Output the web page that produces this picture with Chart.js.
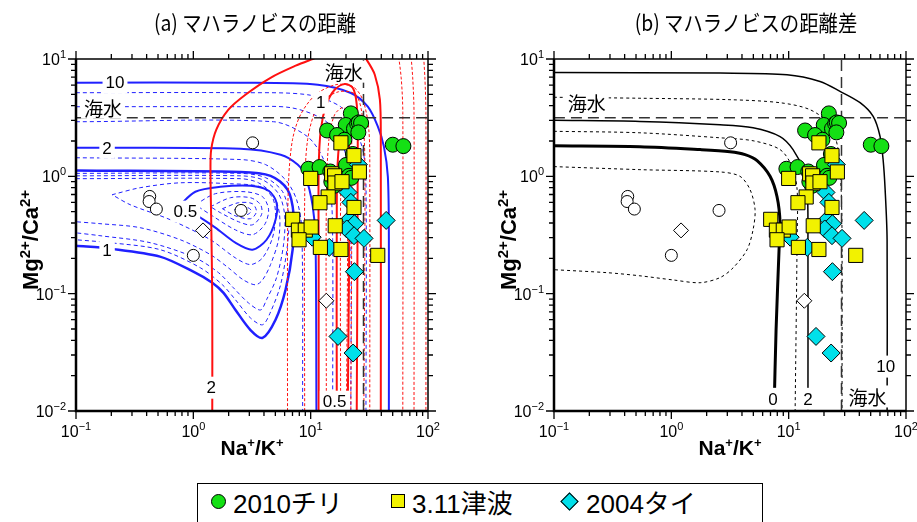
<!DOCTYPE html>
<html>
<head>
<meta charset="utf-8">
<title>マハラノビスの距離</title>
<script src="https://cdn.jsdelivr.net/npm/chart.js@4.4.1/dist/chart.umd.min.js"></script>
<style>
  body { margin: 0; background: #fff; }
  #page { position: relative; width: 917px; height: 522px; overflow: hidden; }
  canvas { position: absolute; top: 0; }
  #chartA { left: 0; }
  #chartB { left: 460px; }
  .title { position: absolute; top: 5px; font: 22px "Noto Sans CJK JP", sans-serif; transform: translateX(-50%) scaleX(0.88); white-space: nowrap; }
  #legend { position: absolute; left: 197px; top: 483px; width: 564px; height: 50px; border: 1.5px solid #000;
            font: 26px "Liberation Sans", "Noto Sans CJK JP", sans-serif; }
  .item { position: absolute; top: 0; height: 34px; display: flex; align-items: center; white-space: nowrap; }
  .mk { border: 1px solid #000; box-sizing: border-box; margin-right: 7px; }
</style>
</head>
<body>
<div id="page">
  <canvas id="chartA" width="460" height="470"></canvas>
  <canvas id="chartB" width="457" height="470"></canvas>
  <div class="title" style="left:255px">(a) マハラノビスの距離</div>
  <div class="title" style="left:746px">(b) マハラノビスの距離差</div>
  <div id="legend"></div>
</div>
<script>
// ---- axes ----
const xTicks = [0.1, 1, 10, 100];
const xTickExp = ['\u22121', '0', '1', '2'];
const yTicks = [0.01, 0.1, 1, 10];
const yTickExp = ['\u22122', '\u22121', '0', '1'];
const minorSteps = [2, 3, 4, 5, 6, 7, 8, 9];
const xTitleParts = [['Na', 0], ['+', 1], ['/K', 0], ['+', 1]];
const yTitleParts = [['Mg', 0], ['2+', 1], ['/Ca', 0], ['2+', 1]];

// ---- samples (Na/K, Mg/Ca) ----
const seriesNames = ['2010チリ', '3.11津波', '2004タイ'];
const chile = [
  [22.0, 3.44], [19.9, 2.74], [23.4, 2.55], [24.9, 2.81], [25.7, 2.88], [26.9, 2.85], [25.5, 2.37],
  [13.8, 2.46], [16.8, 2.25], [19.4, 2.05], [50.1, 1.86], [61.7, 1.81], [22.9, 1.55], [20.0, 1.25],
  [9.56, 1.16], [11.9, 1.20], [14.7, 1.10], [21.2, 1.01], [22.2, 0.97], [15.8, 0.83], [15.0, 0.90]
];
const tsunami = [
  [18.1, 1.93], [23.4, 1.50], [26.0, 1.09], [10.0, 0.96], [15.1, 1.05], [16.0, 1.01], [16.1, 0.877],
  [18.5, 0.90], [14.1, 0.667], [12.0, 0.596], [23.4, 0.543], [7.03, 0.43], [7.86, 0.348], [9.0, 0.348],
  [10.1, 0.37], [16.2, 0.379], [7.96, 0.288], [12.1, 0.248], [18.1, 0.238], [37.3, 0.212]
];
const thai = [
  [25.5, 1.26], [20.8, 0.729], [22.0, 0.60], [44.0, 0.421], [21.5, 0.432], [23.6, 0.394], [20.3, 0.356],
  [23.4, 0.312], [28.5, 0.296], [10.3, 0.303], [14.4, 0.248], [23.6, 0.154], [17.1, 0.0432], [23.0, 0.0312]
];
const otherCircles = [[3.2, 1.93], [0.425, 0.674], [0.42, 0.61], [0.484, 0.526], [2.55, 0.512], [1.0, 0.212]];
const otherDiamonds = [[1.21, 0.346], [13.6, 0.087]];
const seawater = [28.2, 3.15];

// ---- (a) blue contours ----
const blue10 = [[0.1, 6.28], [2.52, 6.27], [11.5, 6.04], [22, 5.13], [30.7, 3.92], [37.4, 2.65], [42.1, 1.79], [45.5, 0.99], [46.4, 0.288], [46.4, 0.01]];
const blue5 = [[0.1, 5.16], [2.52, 5.16], [9.4, 4.96], [18, 3.92], [23.3, 2.65], [27.8, 1.69], [29.6, 0.88], [29.6, 0.01]];
const blue4 = [[0.1, 3.92], [2.52, 3.92], [6.74, 3.85], [12.9, 3.04], [18, 2.05], [20.7, 1.21], [22, 0.29], [22, 0.01]];
const blue3 = [[0.1, 2.92], [4.83, 2.92], [9.4, 2.18], [12.9, 1.39], [14.8, 0.77], [15.4, 0.29], [15.4, 0.01]];
const blue2 = [[0.1, 1.75], [2.52, 1.72], [5.55, 1.53], [7.74, 1.26], [9.06, 0.99], [10.4, 0.56], [11.0, 0.288], [11.2, 0.01]];
const blue15 = [[0.1, 1.44], [2.52, 1.39], [4.12, 1.26], [6.1, 0.935], [7.6, 0.63], [8.4, 0.35], [8.55, 0.01]];
const blue1 = [[0.1, 1.12], [2.52, 1.09], [4.55, 1.01], [6.35, 0.77], [7.16, 0.47], [7.02, 0.237], [6.11, 0.108], [5.02, 0.06],
  [3.89, 0.042], [3.07, 0.049], [2.28, 0.073], [1.8, 0.102], [1.45, 0.124], [1.0, 0.154], [0.52, 0.207], [0.195, 0.242], [0.1, 0.256]];
const blue09 = [[0.1, 1.06], [2.52, 1.06], [4.12, 0.975], [5.77, 0.739], [6.49, 0.471], [6.35, 0.261], [5.54, 0.119], [4.55, 0.0698],
  [3.89, 0.0543], [3.07, 0.0621], [2.28, 0.089], [1.77, 0.119], [1.15, 0.166], [0.522, 0.237], [0.195, 0.272], [0.1, 0.288]];
const blue08 = [[0.1, 1.01], [2.52, 1.01], [3.89, 0.935], [5.32, 0.711], [6.0, 0.471], [5.87, 0.261], [5.12, 0.137], [4.21, 0.089],
  [3.74, 0.0726], [2.95, 0.0834], [2.2, 0.112], [1.64, 0.151], [1.04, 0.202], [0.428, 0.272], [0.16, 0.312], [0.1, 0.33]];
const blue07 = [[0.1, 0.955], [2.52, 0.955], [3.59, 0.881], [4.83, 0.684], [5.43, 0.471], [5.32, 0.288], [4.55, 0.177], [3.89, 0.131],
  [3.39, 0.119], [2.67, 0.131], [1.99, 0.166], [1.4, 0.215], [0.775, 0.288], [0.352, 0.365], [0.16, 0.395], [0.1, 0.41]];
const blue06 = [[0.203, 0.697], [0.352, 0.8], [0.775, 0.881], [2.07, 0.865], [3.74, 0.815], [4.73, 0.657], [5.02, 0.471], [4.73, 0.3],
  [3.89, 0.202], [3.07, 0.177], [2.28, 0.202], [1.4, 0.288], [0.635, 0.427], [0.29, 0.573], [0.203, 0.697]];
const blue05 = [[0.745, 0.551], [1.04, 0.739], [1.7, 0.815], [3.07, 0.832], [4.38, 0.754], [5.12, 0.596], [5.02, 0.427], [4.21, 0.288],
  [3.19, 0.237], [2.28, 0.272], [1.54, 0.365], [1.04, 0.471], [0.745, 0.551]];
const blue04 = [[1.04, 0.573], [1.54, 0.711], [2.78, 0.739], [3.89, 0.67], [4.38, 0.519], [4.04, 0.386], [3.19, 0.318], [2.28, 0.35], [1.45, 0.461], [1.04, 0.573]];
const blue03 = [[1.4, 0.551], [2.07, 0.657], [3.07, 0.657], [3.74, 0.573], [3.81, 0.471], [3.19, 0.386], [2.43, 0.41], [1.7, 0.49], [1.4, 0.551]];
const blue02 = [[1.77, 0.53], [2.43, 0.596], [3.19, 0.584], [3.45, 0.499], [3.07, 0.435], [2.28, 0.461], [1.77, 0.53]];
const blue01 = [[2.24, 0.519], [2.78, 0.551], [3.13, 0.509], [2.84, 0.471], [2.24, 0.519]];

// ---- (a) red contours ----
const red2 = [[1.45, 0.01], [1.45, 0.089], [1.42, 0.427], [1.4, 1.14], [1.42, 1.69], [1.57, 2.5], [1.99, 3.7], [2.78, 4.96], [4.55, 6.92], [7.45, 8.77], [10.4, 10], [12.2, 10.6]];
const red2b = [[27.8, 10.6], [30.1, 9.8], [35.2, 7.35], [38.9, 4.5], [39.6, 2.05], [39.6, 0.01]];
const red15 = [[6.35, 0.01], [6.35, 0.237], [6.49, 0.935], [7.0, 2.05], [8.2, 3.35], [11, 4.96], [16.4, 6.04], [22.9, 5.81], [27.8, 4.5], [31.3, 2.5], [31.9, 0.935], [31.9, 0.01]];
const red125 = [[8.89, 0.01], [8.89, 0.63], [9.42, 2.05], [11.7, 4.08], [17.3, 5.26], [24.3, 4.96], [27.8, 3.04], [29.0, 1.14], [28.4, 0.01]];
const red1 = [[11.7, 0.01], [11.7, 0.237], [11.7, 1.14], [12.2, 2.5], [13.6, 4.08], [16.0, 5.47], [19.5, 6.12], [22.9, 5.66], [24.7, 4.08], [25.2, 2.05], [24.7, 0.01]];
const red075 = [[13.6, 0.01], [13.6, 0.63], [14.3, 2.05], [16, 3.35], [18.8, 3.85], [21.5, 3.35], [22.4, 1.69], [22, 0.01]];
const red05 = [[16.7, 0.01], [16.7, 0.63], [17.3, 1.69], [18.8, 2.26], [20.7, 2.13], [21.5, 1.39], [20.7, 0.01]];
const red03 = [[18, 0.01], [18, 0.63], [18.8, 1.2], [19.9, 1.3], [20.7, 1.0], [20.2, 0.01]];
const red3 = [[54, 14], [59, 7], [61, 3.5], [61, 0.01]];
const red4 = [[70, 14], [74, 7], [76, 3.5], [76, 0.01]];
const red5 = [[90, 14], [94, 7], [96, 3.5], [96, 0.01]];

// ---- (b) contours of the distance difference ----
const diff0 = [[0.1, 1.82], [0.54, 1.79], [1.76, 1.69], [3.16, 1.62], [4.25, 1.53], [5.38, 1.36], [6.94, 1.0], [7.96, 0.67], [8.45, 0.40], [8.28, 0.237], [7.81, 0.049], [7.51, 0.01]];
const diff2 = [[0.1, 3.0], [0.54, 2.94], [2.6, 2.75], [4.97, 2.59], [8.45, 2.18], [10.9, 1.69], [13.3, 1.14], [14.4, 0.77], [14.6, 0.29], [14.6, 0.01]];
const diff10 = [[0.1, 7.69], [2.6, 7.58], [9.69, 7.35], [18.5, 6.44], [27.4, 5.3], [40.6, 4.24], [52.5, 3.24], [60.1, 2.19], [63.8, 1.39], [66.4, 0.77], [69, 0.29], [69, 0.01]];
const diff5 = [[0.1, 4.72], [0.54, 4.63], [3.16, 4.5], [8.45, 4.24], [15.2, 3.7], [22.5, 2.75], [26.4, 1.69], [28, 0.77], [28.5, 0.29], [28.5, 0.01]];
const diff1 = [[0.1, 2.42], [0.54, 2.35], [2.6, 2.13], [4.97, 2.01], [8.45, 1.69], [10.7, 1.21], [11.8, 0.77], [11.8, 0.29], [11.35, 0.01]];
const diffM1 = [[0.1, 1.21], [0.54, 1.14], [2.6, 1.09], [3.85, 1.0], [4.69, 0.77], [5.17, 0.52], [4.97, 0.35], [4.42, 0.237], [3.36, 0.166],
  [2.6, 0.137], [1.76, 0.124], [1.03, 0.131], [0.54, 0.142], [0.283, 0.151], [0.1, 0.16]];

// ---- contour labels (text, x, y) ----
const numLabelsA = [['10', 0.215, 6.28], ['2', 0.184, 1.75], ['1', 0.184, 0.232], ['0.5', 0.855, 0.5], ['2', 1.42, 0.0158], ['1', 12.2, 4.24], ['0.5', 16.0, 0.012]];
const seaLabelsA = [['海水', 0.17, 3.85], ['海水', 19.1, 7.8]];
const numLabelsB = [['0', 7.36, 0.0127], ['2', 14.6, 0.0127], ['10', 67.3, 0.0239]];
const seaLabelsB = [['海水', 0.19, 4.22], ['海水', 46.9, 0.0133]];

// ---------------------------------------------------------------
const BLUE = '#2020ff', RED = '#ff1010';
const markColors = ['#14e014', '#f2f200', '#00e0ea'];

const toPts = a => a.map(p => ({ x: p[0], y: p[1] }));

function contour(a, color, width, dash, order) {
  return {
    data: toPts(a), showLine: true, borderColor: color, borderWidth: width, borderDash: dash || [],
    pointRadius: 0, pointHoverRadius: 0, tension: 0.3, order: order
  };
}

function marks(a, style, fill, r, order) {
  return {
    data: toPts(a), showLine: false, pointStyle: style, pointRadius: r, pointHoverRadius: r,
    backgroundColor: fill, borderColor: '#000', borderWidth: 1, order: order
  };
}

function seaLines() {
  return [
    contour([[xTicks[0], seawater[1]], [xTicks[3], seawater[1]]], '#333', 1.5, [11, 6], 8),
    contour([[seawater[0], yTicks[0]], [seawater[0], yTicks[3]]], '#333', 1.5, [11, 6], 8)
  ];
}

function sampleSets() {
  return [
    marks(otherCircles, 'circle', '#fff', 6, 5),
    marks(otherDiamonds, 'rectRot', '#fff', 7.5, 5),
    marks(chile, 'circle', markColors[0], 7.5, 4),
    marks(thai, 'rectRot', markColors[2], 9, 3),
    marks(tsunami, 'rect', markColors[1], 10, 2)
  ];
}

function textLabel(ctx, text, x, y, font, bg) {
  ctx.font = font;
  const w = ctx.measureText(text).width;
  if (bg) {
    ctx.fillStyle = '#fff';
    ctx.fillRect(x - w / 2 - 3, y - 11, w + 6, 22);
  }
  ctx.fillStyle = '#000';
  ctx.textAlign = 'center';
  ctx.textBaseline = 'middle';
  ctx.fillText(text, x, y + 1);
}

function supText(ctx, parts, x, y, size, supSize) {
  const big = 'bold ' + size + 'px "Liberation Sans"', small = 'bold ' + supSize + 'px "Liberation Sans"';
  let total = 0;
  parts.forEach(p => { ctx.font = p[1] ? small : big; total += ctx.measureText(p[0]).width; });
  let cx = x - total / 2;
  ctx.textAlign = 'left';
  ctx.textBaseline = 'alphabetic';
  parts.forEach(p => {
    ctx.font = p[1] ? small : big;
    ctx.fillText(p[0], cx, p[1] ? y - 8 : y);
    cx += ctx.measureText(p[0]).width;
  });
}

function powerLabel(ctx, exp, x, y, align) {
  ctx.font = '16px "Liberation Sans"';
  const wb = ctx.measureText('10').width;
  ctx.font = '11px "Liberation Sans"';
  const we = ctx.measureText(exp).width;
  const left = align === 'center' ? x - (wb + we) / 2 : x - wb - we;
  ctx.textAlign = 'left';
  ctx.textBaseline = 'alphabetic';
  ctx.font = '16px "Liberation Sans"';
  ctx.fillText('10', left, y);
  ctx.font = '11px "Liberation Sans"';
  ctx.fillText(exp, left + wb, y - 7);
}

const axesPlugin = {
  id: 'axes',
  afterDatasetsDraw(chart, args, o) {
    const ctx = chart.ctx, a = chart.chartArea, xs = chart.scales.x, ys = chart.scales.y;
    ctx.save();
    ctx.fillStyle = '#000';
    o.nums.forEach(l => textLabel(ctx, l[0], xs.getPixelForValue(l[1]), ys.getPixelForValue(l[2]), '17px "Liberation Sans"', true));
    o.seas.forEach(l => textLabel(ctx, l[0], xs.getPixelForValue(l[1]), ys.getPixelForValue(l[2]), '19px "Noto Sans CJK JP"', true));

    // frame
    ctx.strokeStyle = '#000';
    ctx.lineWidth = 1.5;
    ctx.strokeRect(a.left, a.top, a.right - a.left, a.bottom - a.top);
    ctx.lineWidth = 2.5;
    ctx.beginPath();
    ctx.moveTo(a.left, a.top); ctx.lineTo(a.left, a.bottom); ctx.lineTo(a.right, a.bottom);
    ctx.stroke();

    // tick marks, outward on all four sides
    ctx.lineWidth = 1.3;
    const tickX = (v, len) => {
      const p = xs.getPixelForValue(v);
      ctx.beginPath();
      ctx.moveTo(p, a.bottom); ctx.lineTo(p, a.bottom + len);
      ctx.moveTo(p, a.top); ctx.lineTo(p, a.top - len);
      ctx.stroke();
    };
    const tickY = (v, len) => {
      const p = ys.getPixelForValue(v);
      ctx.beginPath();
      ctx.moveTo(a.left, p); ctx.lineTo(a.left - len, p);
      ctx.moveTo(a.right, p); ctx.lineTo(a.right + len, p);
      ctx.stroke();
    };
    xTicks.forEach(v => tickX(v, 8));
    xTicks.slice(0, -1).forEach(d => minorSteps.forEach(m => tickX(d * m, 5)));
    yTicks.forEach(v => tickY(v, 8));
    yTicks.slice(0, -1).forEach(d => minorSteps.forEach(m => tickY(d * m, 5)));

    // tick labels
    ctx.fillStyle = '#000';
    xTicks.forEach((v, i) => powerLabel(ctx, xTickExp[i], xs.getPixelForValue(v), a.bottom + 26, 'center'));
    yTicks.forEach((v, i) => powerLabel(ctx, yTickExp[i], a.left - 10, ys.getPixelForValue(v) + 6, 'right'));

    // axis titles
    supText(ctx, xTitleParts, (a.left + a.right) / 2, a.bottom + 44, 21, 13);
    ctx.translate(a.left - 38, (a.top + a.bottom) / 2 + 5);
    ctx.rotate(-Math.PI / 2);
    supText(ctx, yTitleParts, 0, 0, 22, 15);
    ctx.restore();
  }
};

function makeChart(id, datasets, pad, nums, seas) {
  return new Chart(document.getElementById(id), {
    type: 'scatter',
    data: { datasets: datasets },
    options: {
      responsive: false,
      animation: false,
      events: [],
      layout: { padding: pad },
      elements: { line: { capBezierPoints: false } },
      scales: {
        x: { type: 'logarithmic', min: xTicks[0], max: xTicks[3], display: false },
        y: { type: 'logarithmic', min: yTicks[0], max: yTicks[3], display: false }
      },
      plugins: {
        legend: { display: false },
        tooltip: { enabled: false },
        axes: { nums: nums, seas: seas }
      }
    },
    plugins: [axesPlugin]
  });
}

const dashB = [4, 3], dashR = [3, 2];
const setsA = [
  ...[blue5, blue4, blue3, blue15, blue09, blue08, blue07, blue06, blue04, blue03, blue02, blue01].map(c => contour(c, BLUE, 1, dashB, 30)),
  ...[blue10, blue2, blue05].map(c => contour(c, BLUE, 2, [], 29)),
  contour(blue1, BLUE, 2.5, [], 29),
  ...[red15, red125, red075, red03, red3, red4, red5].map(c => contour(c, RED, 1, dashR, 26)),
  ...[red2, red2b, red1, red05].map(c => contour(c, RED, 2, [], 25)),
  ...seaLines(),
  ...sampleSets()
];

const setsB = [
  ...[diff5, diff1, diffM1].map(c => contour(c, '#000', 1, [3, 3], 30)),
  contour(diff2, '#000', 1.5, [], 29),
  contour(diff10, '#000', 1.5, [], 29),
  contour(diff0, '#000', 3, [], 29),
  ...seaLines(),
  ...sampleSets()
];

makeChart('chartA', setsA, { left: 76, right: 32, top: 59, bottom: 59 }, numLabelsA, seaLabelsA);
makeChart('chartB', setsB, { left: 94, right: 11, top: 59, bottom: 59 }, numLabelsB, seaLabelsB);

// legend
const legendShapes = [
  'width:15px;height:15px;border-radius:50%',
  'width:14px;height:14px',
  'width:13px;height:13px;transform:rotate(45deg);margin-left:2px;margin-right:10px'
];
const legendLeft = [13, 193, 363];
const legend = document.getElementById('legend');
seriesNames.forEach((name, i) => {
  const item = document.createElement('div');
  item.className = 'item';
  item.style.left = legendLeft[i] + 'px';
  item.innerHTML = '<span class="mk" style="background:' + markColors[i] + ';' + legendShapes[i] + '"></span><span>' + name + '</span>';
  legend.appendChild(item);
});
</script>
</body>
</html>
